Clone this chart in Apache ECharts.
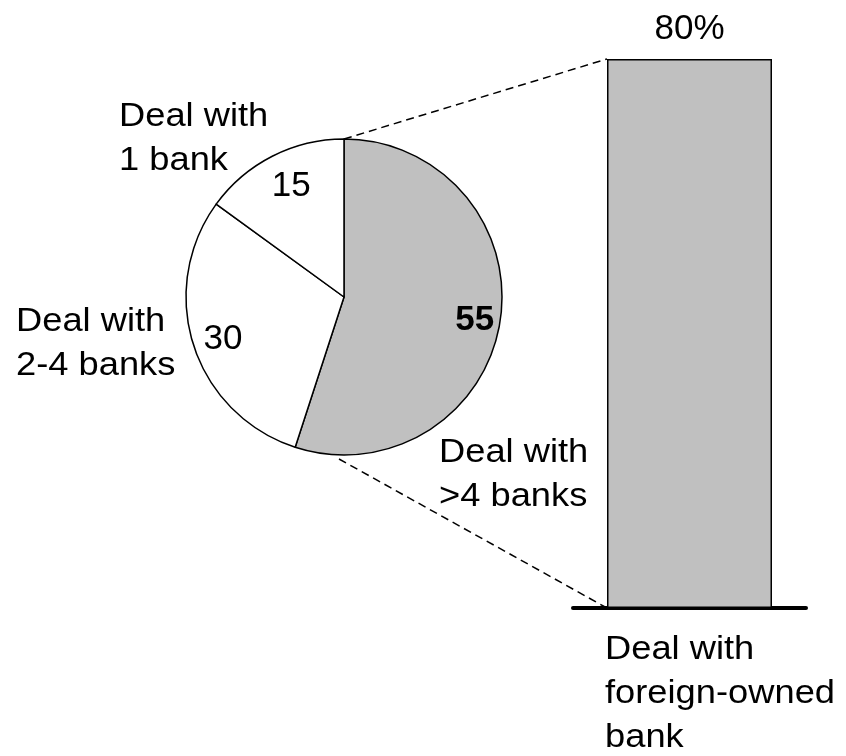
<!DOCTYPE html>
<html>
<head>
<meta charset="utf-8">
<script src="https://cdn.jsdelivr.net/npm/echarts@6/dist/echarts.min.js"></script>
<style>html,body{margin:0;padding:0;background:#fff;}#c{width:846px;height:756px;}</style>
</head>
<body>
<div id="c"></div>
<script>
// Data
var pieCategories = ['Deal with\n>4 banks', 'Deal with\n2-4 banks', 'Deal with\n1 bank'];
var pieValues = [55, 30, 15];
var barCategories = ['Deal with\nforeign-owned\nbank'];
var barValues = [80];
var barLabels = ['80%'];

var FONT = 'Liberation Sans, Arial, sans-serif';
var CX = 344, CY = 297, R = 158;
var BAR_W = 165;
var GRAY = '#c0c0c0';

var chart = echarts.init(document.getElementById('c'), null, {renderer: 'canvas'});

var pieColors = [GRAY, '#ffffff', '#ffffff'];
var labelOffsets = [[3, 3], [2, 2], [6, 5]];
var pieData = pieValues.map(function (v, i) {
  return {name: pieCategories[i], value: v, itemStyle: {color: pieColors[i]}};
});
var pieLabelData = pieValues.map(function (v, i) {
  return {name: pieCategories[i], value: v,
          label: {fontWeight: i === 0 ? 'bold' : 'normal', offset: labelOffsets[i]}};
});

function outerText(txt, x, y) {
  return {
    type: 'text', x: x, y: y, scaleX: 1.1, silent: true, z: 10,
    style: {text: txt, x: 0, y: 0, fill: '#000', font: '33px ' + FONT,
            lineHeight: 44, align: 'left', verticalAlign: 'top'}
  };
}

chart.setOption({
  backgroundColor: '#ffffff',
  animation: false,
  grid: {left: 573, width: 233, top: 59, height: 549},
  xAxis: {
    type: 'category', data: barCategories,
    axisLine: {show: true, lineStyle: {color: '#000', width: 4}},
    axisTick: {show: false}, axisLabel: {show: false}, splitLine: {show: false}
  },
  yAxis: {type: 'value', min: 0, max: 80, show: false, splitLine: {show: false}},
  series: [
    {
      type: 'pie', center: [CX, CY], radius: [0, R], startAngle: 90, clockwise: true,
      silent: true, data: pieData,
      itemStyle: {borderColor: '#000', borderWidth: 1.5},
      label: {show: false}, labelLine: {show: false}
    },
    {
      type: 'pie', center: [CX, CY], radius: [R * 0.6, R], startAngle: 90, clockwise: true,
      silent: true, data: pieLabelData, z: 5,
      itemStyle: {color: 'rgba(0,0,0,0)', borderWidth: 0},
      label: {show: true, position: 'inside', formatter: '{c}', color: '#000',
              fontSize: 35, fontFamily: FONT},
      labelLine: {show: false}
    },
    {
      type: 'bar', data: barValues, barWidth: BAR_W, silent: true,
      itemStyle: {color: GRAY, borderColor: '#000', borderWidth: 1.5},
      label: {show: true, position: 'top', distance: 12, color: '#000', fontSize: 35,
              fontFamily: FONT, formatter: function (p) { return barLabels[p.dataIndex]; }}
    }
  ]
});

var barTopPx = chart.convertToPixel({seriesIndex: 2}, [0, barValues[0]]);
var barBotPx = chart.convertToPixel({seriesIndex: 2}, [0, 0]);
var barLeftPx = barTopPx[0] - BAR_W / 2;
var dash = {stroke: '#000', lineWidth: 1.5, lineDash: [8, 5]};

chart.setOption({
  graphic: [
    {type: 'line', silent: true, shape: {x1: CX, y1: CY - R, x2: barLeftPx, y2: barTopPx[1]}, style: dash},
    {type: 'line', silent: true, shape: {x1: CX - 5, y1: CY + R + 4, x2: barLeftPx, y2: barBotPx[1]}, style: dash},
    outerText(pieCategories[2], 119, 95),
    outerText(pieCategories[1], 16, 300),
    outerText(pieCategories[0], 439, 431),
    outerText(barCategories[0], 605, 628)
  ]
});
</script>
</body>
</html>
